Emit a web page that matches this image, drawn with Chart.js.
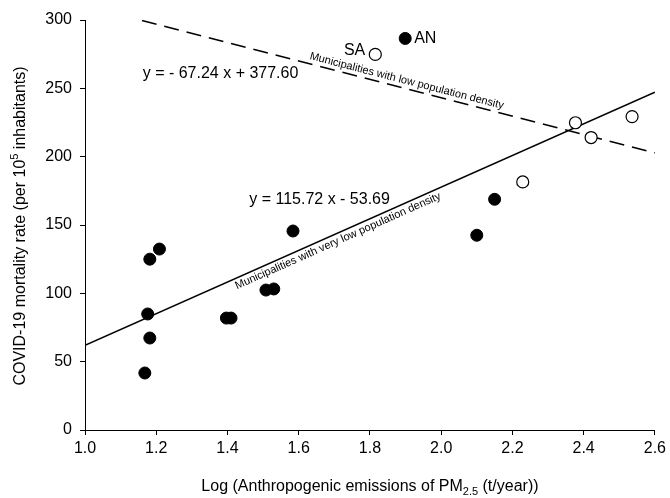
<!DOCTYPE html>
<html><head><meta charset="utf-8">
<script src="https://cdn.jsdelivr.net/npm/chart.js@4.4.1/dist/chart.umd.min.js"></script>
<style>html,body{margin:0;padding:0;background:#fff}canvas{display:block}</style>
</head><body>
<canvas id="c" width="670" height="498"></canvas>
<script>
// ---- data ----
const xTicks = [1.0, 1.2, 1.4, 1.6, 1.8, 2.0, 2.2, 2.4, 2.6];
const yTicks = [0, 50, 100, 150, 200, 250, 300];

// Municipalities with very low population density (filled dots)
const veryLowX = [1.168, 1.176, 1.182, 1.182, 1.209, 1.397, 1.410, 1.508, 1.530, 1.584, 1.899, 2.100, 2.150];
const veryLowY = [41.7, 84.9, 67.3, 125.0, 132.4, 81.9, 81.9, 102.4, 103.2, 145.6, 286.5, 142.5, 168.8];

// Municipalities with low population density (open circles)
const lowX = [1.815, 2.229, 2.377, 2.421, 2.536];
const lowY = [274.8, 181.5, 224.8, 214.0, 229.3];

// Regression lines (end points)
const fitVeryLowX = [1.0, 2.6];
const fitVeryLowY = [62.0, 247.2];
const fitLowX = [1.16, 2.6];
const fitLowY = [299.6, 202.8];

const eqVeryLow = 'y = 115.72 x - 53.69';
const eqLow = 'y = - 67.24 x + 377.60';
const lineLabelVeryLow = 'Municipalities with very low population density';
const lineLabelLow = 'Municipalities with low population density';
const labelAN = 'AN';
const labelSA = 'SA';

const FONT = '"Liberation Sans", Arial, sans-serif';
const toPts = (xs, ys) => xs.map((x, i) => ({x, y: ys[i]}));

const annot = {
  id: 'annot',
  afterDatasetsDraw(chart) {
    const {ctx, scales: {x, y}} = chart;
    ctx.save();
    ctx.fillStyle = '#000';
    // equations
    ctx.font = '16px ' + FONT;
    ctx.textBaseline = 'middle';
    ctx.textAlign = 'left';
    ctx.fillText(eqLow, x.getPixelForValue(1.162), y.getPixelForValue(260.5));
    ctx.fillText(eqVeryLow, x.getPixelForValue(1.461), y.getPixelForValue(168.3));
    // point labels
    const an = veryLowX.length - 3;
    ctx.fillText(labelAN, x.getPixelForValue(veryLowX[an]) + 9, y.getPixelForValue(veryLowY[an]));
    ctx.textAlign = 'right';
    ctx.fillText(labelSA, x.getPixelForValue(lowX[0]) - 10, y.getPixelForValue(lowY[0]) - 4);
    // rotated labels along the lines
    const along = (xs, ys, xv, text, above) => {
      const x1 = x.getPixelForValue(xs[0]), y1 = y.getPixelForValue(ys[0]);
      const x2 = x.getPixelForValue(xs[1]), y2 = y.getPixelForValue(ys[1]);
      const ang = Math.atan2(y2 - y1, x2 - x1);
      const px = x.getPixelForValue(xv);
      const py = y1 + (px - x1) * (y2 - y1) / (x2 - x1);
      ctx.save();
      ctx.translate(px, py);
      ctx.rotate(ang);
      ctx.font = '11px ' + FONT;
      ctx.textAlign = 'center';
      ctx.textBaseline = above ? 'bottom' : 'top';
      ctx.fillText(text, 0, above ? -2 : 2);
      ctx.restore();
    };
    along(fitLowX, fitLowY, 1.898, lineLabelLow, true);
    along(fitVeryLowX, fitVeryLowY, 1.702, lineLabelVeryLow, false);

    // axis titles with sub/superscripts
    const drawParts = (parts, cx, cy) => {
      let w = 0;
      parts.forEach(p => { ctx.font = p.size + 'px ' + FONT; w += ctx.measureText(p.t).width; });
      let cur = cx - w / 2;
      ctx.textAlign = 'left';
      ctx.textBaseline = 'alphabetic';
      parts.forEach(p => {
        ctx.font = p.size + 'px ' + FONT;
        ctx.fillText(p.t, cur, cy + (p.dy || 0));
        cur += ctx.measureText(p.t).width;
      });
    };
    const ca = chart.chartArea;
    drawParts([
      {t: 'Log (Anthropogenic emissions of PM', size: 16},
      {t: '2.5', size: 11, dy: 4},
      {t: ' (t/year))', size: 16}
    ], (ca.left + ca.right) / 2, 491);
    ctx.save();
    ctx.translate(25, 226);
    ctx.rotate(-Math.PI / 2);
    drawParts([
      {t: 'COVID-19 mortality rate (per 10', size: 16},
      {t: '5', size: 11, dy: -7},
      {t: ' inhabitants)', size: 16}
    ], 0, 0);
    ctx.restore();
    ctx.restore();
  }
};

new Chart(document.getElementById('c'), {
  type: 'scatter',
  data: {
    datasets: [
      {
        label: 'very low density',
        data: toPts(veryLowX, veryLowY),
        backgroundColor: '#000', borderColor: '#000', borderWidth: 1,
        pointRadius: 6, order: 0
      },
      {
        label: 'low density',
        data: toPts(lowX, lowY),
        backgroundColor: '#fff', borderColor: '#000', borderWidth: 1.2,
        pointRadius: 6, order: 0
      },
      {
        type: 'line', label: 'fit very low',
        data: toPts(fitVeryLowX, fitVeryLowY),
        borderColor: '#000', borderWidth: 1.6, pointRadius: 0, fill: false, order: 1
      },
      {
        type: 'line', label: 'fit low',
        data: toPts(fitLowX, fitLowY),
        borderColor: '#000', borderWidth: 1.6, borderDash: [15, 8], pointRadius: 0, fill: false, order: 1
      }
    ]
  },
  options: {
    responsive: false,
    animation: false,
    layout: {padding: {top: 20, right: 12, left: 0, bottom: 0}},
    plugins: {legend: {display: false}, tooltip: {enabled: false}},
    scales: {
      x: {
        type: 'linear', min: 1.0, max: 2.6,
        afterBuildTicks: s => { s.ticks = xTicks.map(v => ({value: v})); },
        afterFit: s => { s.height = 68; },
        ticks: {color: '#000', font: {family: FONT, size: 16}, padding: 4, callback: v => v.toFixed(1)},
        grid: {drawOnChartArea: false, drawTicks: true, tickLength: 5, color: '#000'},
        border: {display: true, color: '#000', width: 1}
      },
      y: {
        type: 'linear', min: 0, max: 300,
        afterBuildTicks: s => { s.ticks = yTicks.map(v => ({value: v})); },
        afterFit: s => { s.width = 85; },
        ticks: {color: '#000', font: {family: FONT, size: 16}, padding: 8},
        grid: {drawOnChartArea: false, drawTicks: true, tickLength: 5, color: '#000'},
        border: {display: true, color: '#000', width: 1}
      }
    }
  },
  plugins: [annot]
});
</script>
</body></html>
